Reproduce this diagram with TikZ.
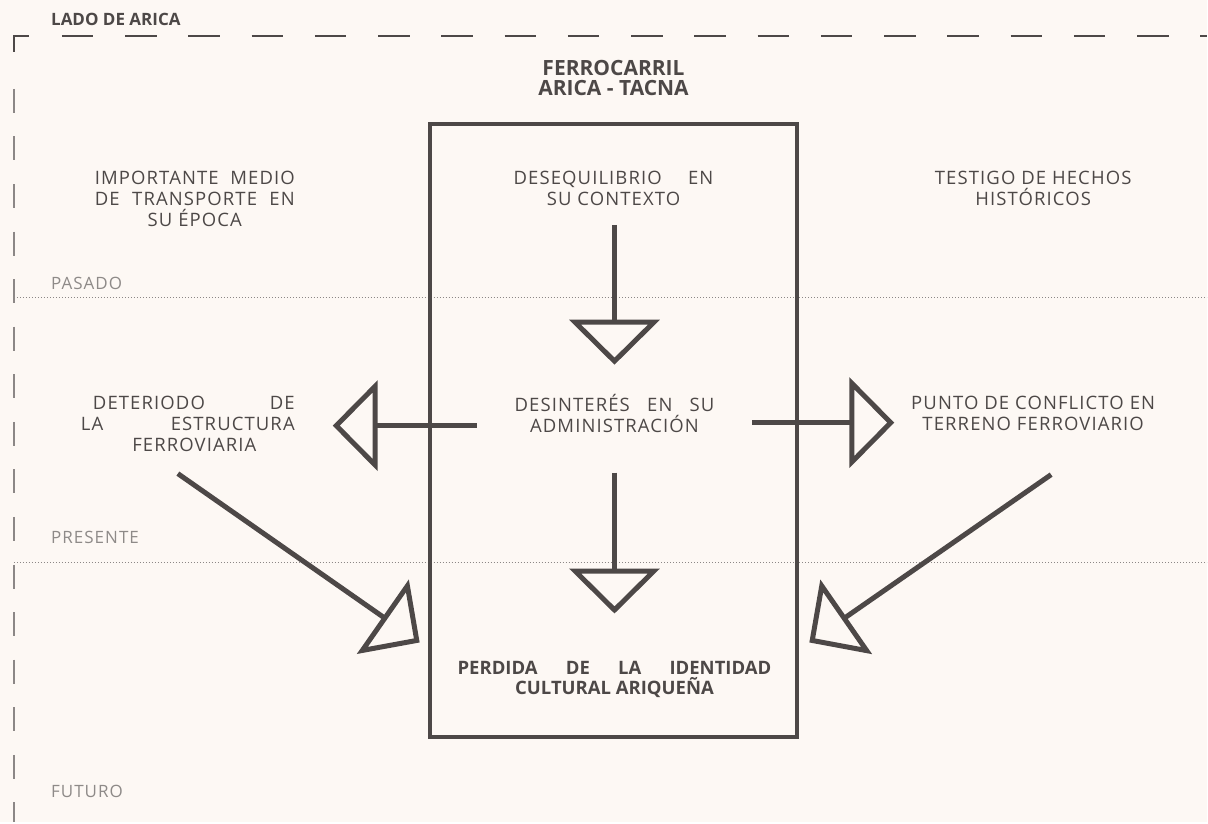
\documentclass[tikz,border=0pt]{standalone}
\usepackage{fontspec}
\setmainfont{Open Sans}[LetterSpace=6, BoldFeatures={LetterSpace=0}]
\usetikzlibrary{arrows.meta}

\definecolor{paper}{HTML}{FDF8F4}
\definecolor{ink}{HTML}{4D4847}
\definecolor{rulegray}{HTML}{8C8786}
\definecolor{soft}{HTML}{8E8A88}

\begin{document}
\begin{tikzpicture}[
    x=1pt, y=-1pt,
    txt/.style={font=\fontsize{18.5}{21}\selectfont, text=ink, align=center, inner sep=0pt},
    boldtxt/.style={txt, font=\fontsize{18.5}{20}\selectfont\bfseries},
    era/.style={font=\fontsize{17}{18}\selectfont, text=soft, anchor=west, inner sep=0pt},
    bigarrow/.style={line width=5pt, draw=ink, -{Triangle[open, length=45pt, width=90pt]}},
    divider/.style={draw=rulegray, line width=1pt, dash pattern=on 1pt off 2pt},
]

% ================== Paper and frame ==================
\fill[paper] (0,0) rectangle (1208,823);
\draw[ink, line width=2pt] (14,52) -- (14,36) -- (29,36);
\draw[ink, line width=2pt, dash pattern=on 31.5pt off 31.8pt] (62,36) -- (1208,36);
\draw[rulegray, line width=2pt, dash pattern=on 24pt off 23.6pt] (14,89) -- (14,823);

\node[txt, font=\fontsize{17}{18}\selectfont\bfseries, anchor=west] (lado) at (51,19) {LADO DE ARICA};

% ================== Time bands ==================
\draw[divider] (14,298) -- (1208,298);
\draw[divider] (14,563) -- (1208,563);
\node[era] (pasado) at (51,284) {PASADO};
\node[era] (presente) at (51,538) {PRESENTE};
\node[era] (futuro) at (51,792) {FUTURO};

% ================== Central column ==================
\node[boldtxt, font=\fontsize{21}{20}\selectfont\bfseries] (title) at (614,78) {FERROCARRIL\\ARICA - TACNA};
\draw[ink, line width=4pt] (430,124) rectangle (798,738);

\node[txt] (desq) at (614,188.5) {\makebox[200pt][s]{DESEQUILIBRIO EN}\\SU CONTEXTO};
\node[txt] (desint) at (615,413.5) {\makebox[200pt][s]{DESINTERÉS EN SU}\\ADMINISTRACIÓN};
\node[boldtxt] (perd) at (615,680) {\makebox[314pt][s]{PERDIDA DE LA IDENTIDAD}\\CULTURAL ARIQUEÑA};

% ================== Sides ==================
\node[txt] (imp) at (195,199.5) {\makebox[200pt][s]{IMPORTANTE MEDIO}\\\makebox[200pt][s]{DE TRANSPORTE EN}\\SU ÉPOCA};
\node[txt] (deter) at (188,424.5) {\hspace*{12pt}\makebox[202pt][s]{DETERIODO DE}\\\makebox[214pt][s]{LA ESTRUCTURA}\\\hspace*{13pt}FERROVIARIA};
\node[txt] (test) at (1034,188.5) {TESTIGO DE HECHOS\\HISTÓRICOS};
\node[txt] (punto) at (1034,413.5) {PUNTO DE CONFLICTO EN\\TERRENO FERROVIARIO};

% arrow ends
\coordinate (a1s) at (615,225);  \coordinate (a1e) at (615,365);
\coordinate (a2s) at (615,473);  \coordinate (a2e) at (615,614);
\coordinate (a3s) at (477,426);  \coordinate (a3e) at (333,426);
\coordinate (a4s) at (753,423);  \coordinate (a4e) at (895,423);
\coordinate (a5s) at (178,474);  \coordinate (a5e) at (420,643);
\coordinate (a6s) at (1052,475); \coordinate (a6e) at (810,643);

\draw[bigarrow] (a1s) -- (a1e);
\draw[bigarrow] (a2s) -- (a2e);
\draw[bigarrow] (a3s) -- (a3e);
\draw[bigarrow] (a4s) -- (a4e);
\draw[bigarrow] (a5s) -- (a5e);
\draw[bigarrow] (a6s) -- (a6e);

\end{tikzpicture}
\end{document}
